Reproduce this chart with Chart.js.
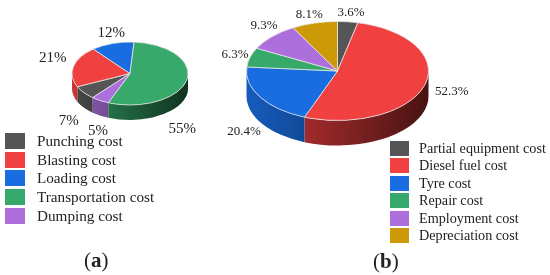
<!DOCTYPE html>
<html>
<head>
<meta charset="utf-8">
<title>Cost pies</title>
<script src="https://cdn.jsdelivr.net/npm/chart.js@4"></script>
<style>
  html, body { margin: 0; padding: 0; background: #fff; }
  body { position: relative; width: 550px; height: 275px; overflow: hidden; font-family: "Liberation Serif", serif; color: #222; }
  canvas { position: absolute; }
  #pieA { left: 0; top: 0; }
  #pieB { left: 220px; top: -34px; }
  .legend { position: absolute; }
  .legend div { position: relative; white-space: nowrap; }
  .legend i { position: absolute; left: 0; }
  #legendA { left: 5px; top: 132px; font-size: 15.2px; }
  #legendA div { height: 18.7px; line-height: 18.7px; padding-left: 32px; }
  #legendA i { top: 1px; width: 20px; height: 16px; }
  #legendB { left: 390px; top: 140px; font-size: 14.2px; }
  #legendB div { height: 17.4px; line-height: 17.4px; padding-left: 29px; }
  #legendB i { top: 1px; width: 19px; height: 15px; }
  .tag { position: absolute; font-size: 21px; }
</style>
</head>
<body>
<canvas id="pieA" width="220" height="140"></canvas>
<canvas id="pieB" width="260" height="210"></canvas>
<div id="legendA" class="legend"></div>
<div id="legendB" class="legend"></div>
<div class="tag" style="left:84px;top:248px">(<b>a</b>)</div>
<div class="tag" style="left:373px;top:249px">(<b>b</b>)</div>
<script>
const labelsA = ['Punching cost', 'Blasting cost', 'Loading cost', 'Transportation cost', 'Dumping cost'];
const valuesA = [7, 21, 12, 55, 5];
const textA = ['7%', '21%', '12%', '55%', '5%'];
const colorsA = ['#555555', '#f04040', '#1a6de0', '#36a96b', '#ad6fdc'];

const labelsB = ['Partial equipment cost', 'Diesel fuel cost', 'Tyre cost', 'Repair cost', 'Employment cost', 'Depreciation cost'];
const valuesB = [3.6, 52.3, 20.4, 6.3, 9.3, 8.1];
const textB = ['3.6%', '52.3%', '20.4%', '6.3%', '9.3%', '8.1%'];
const colorsB = ['#555555', '#f04040', '#1a6de0', '#36a96b', '#ad6fdc', '#cc9a06'];

// mezcla un color con negro
function shade(hex, k) {
  const n = parseInt(hex.slice(1), 16);
  return `rgb(${((n >> 16) & 255) * k | 0},${((n >> 8) & 255) * k | 0},${(n & 255) * k | 0})`;
}

// inclina la tarta: pared lateral, aplastado en y, y etiquetas
const tiltPlugin = {
  id: 'tilt',
  beforeDatasetsDraw(chart, args, opts) {
    const { ctx } = chart;
    const arcs = chart.getDatasetMeta(0).data;
    const { x, y, outerRadius: rx } = arcs[0];
    const ry = rx * opts.ratio;
    const colors = chart.data.datasets[0].backgroundColor;
    arcs.forEach((arc, i) => {
      for (let k = 0; k < 2; k++) {
        const a0 = Math.max(arc.startAngle, 2 * Math.PI * k);
        const a1 = Math.min(arc.endAngle, 2 * Math.PI * k + Math.PI);
        if (a1 <= a0) continue;
        // la luz viene de la izquierda, igual para toda la tarta
        const grad = ctx.createLinearGradient(x - rx, 0, x + rx, 0);
        grad.addColorStop(0, shade(colors[i], opts.wallLight));
        grad.addColorStop(1, shade(colors[i], opts.wallDark));
        ctx.beginPath();
        ctx.ellipse(x, y, rx, ry, 0, a0, a1);
        ctx.ellipse(x, y + opts.depth, rx, ry, 0, a1, a0, true);
        ctx.closePath();
        ctx.fillStyle = grad;
        ctx.fill();
      }
    });
    ctx.save();
    ctx.translate(0, y);
    ctx.scale(1, opts.ratio);
    ctx.translate(0, -y);
  },
  afterDatasetsDraw(chart, args, opts) {
    const { ctx } = chart;
    ctx.restore();
    const arcs = chart.getDatasetMeta(0).data;
    ctx.save();
    ctx.font = opts.font;
    ctx.fillStyle = '#222';
    ctx.textAlign = 'center';
    ctx.textBaseline = 'middle';
    arcs.forEach((arc, i) => {
      const mid = (arc.startAngle + arc.endAngle) / 2;
      const [dx, dy] = opts.nudge[i];
      ctx.fillText(opts.text[i],
        arc.x + (arc.outerRadius + opts.gap) * Math.cos(mid) + dx,
        arc.y + (arc.outerRadius + opts.gap) * opts.ratio * Math.sin(mid) + dy);
    });
    ctx.restore();
  }
};

function makePie(id, labels, values, colors, rotation, padding, tilt) {
  return new Chart(document.getElementById(id), {
    type: 'pie',
    data: { labels, datasets: [{ data: values, backgroundColor: colors, borderColor: '#e8e8e8', borderWidth: 1 }] },
    options: {
      responsive: false,
      animation: false,
      rotation,
      layout: { padding },
      plugins: { legend: { display: false }, tooltip: { enabled: false }, tilt }
    },
    plugins: [tiltPlugin]
  });
}

function makeLegend(id, labels, colors) {
  document.getElementById(id).innerHTML = labels
    .map((l, i) => `<div><i style="background:${colors[i]}"></i>${l}</div>`).join('');
}

makePie('pieA', labelsA, valuesA, colorsA, 220,
  { left: 71.5, right: 31.5, top: 15, bottom: 8 },
  { ratio: 0.543, depth: 15, wallLight: 0.85, wallDark: 0.3, gap: 14, font: '15px "Liberation Serif"', text: textA,
    nudge: [[-4, 24], [-7, -7], [3, -3], [-18, 47], [5, 24]] });
makePie('pieB', labelsB, valuesB, colorsB, 0,
  { left: 26, right: 51, top: 10, bottom: 10 },
  { ratio: 0.544, depth: 25, wallLight: 0.85, wallDark: 0.3, gap: 14, font: '13px "Liberation Serif"', text: textB,
    nudge: [[1.6, -1.6], [14, 4], [-4.5, 30], [-1.6, -1], [2, -5.7], [-1.7, -1.6]] });

makeLegend('legendA', labelsA, colorsA);
makeLegend('legendB', labelsB, colorsB);
</script>
</body>
</html>
